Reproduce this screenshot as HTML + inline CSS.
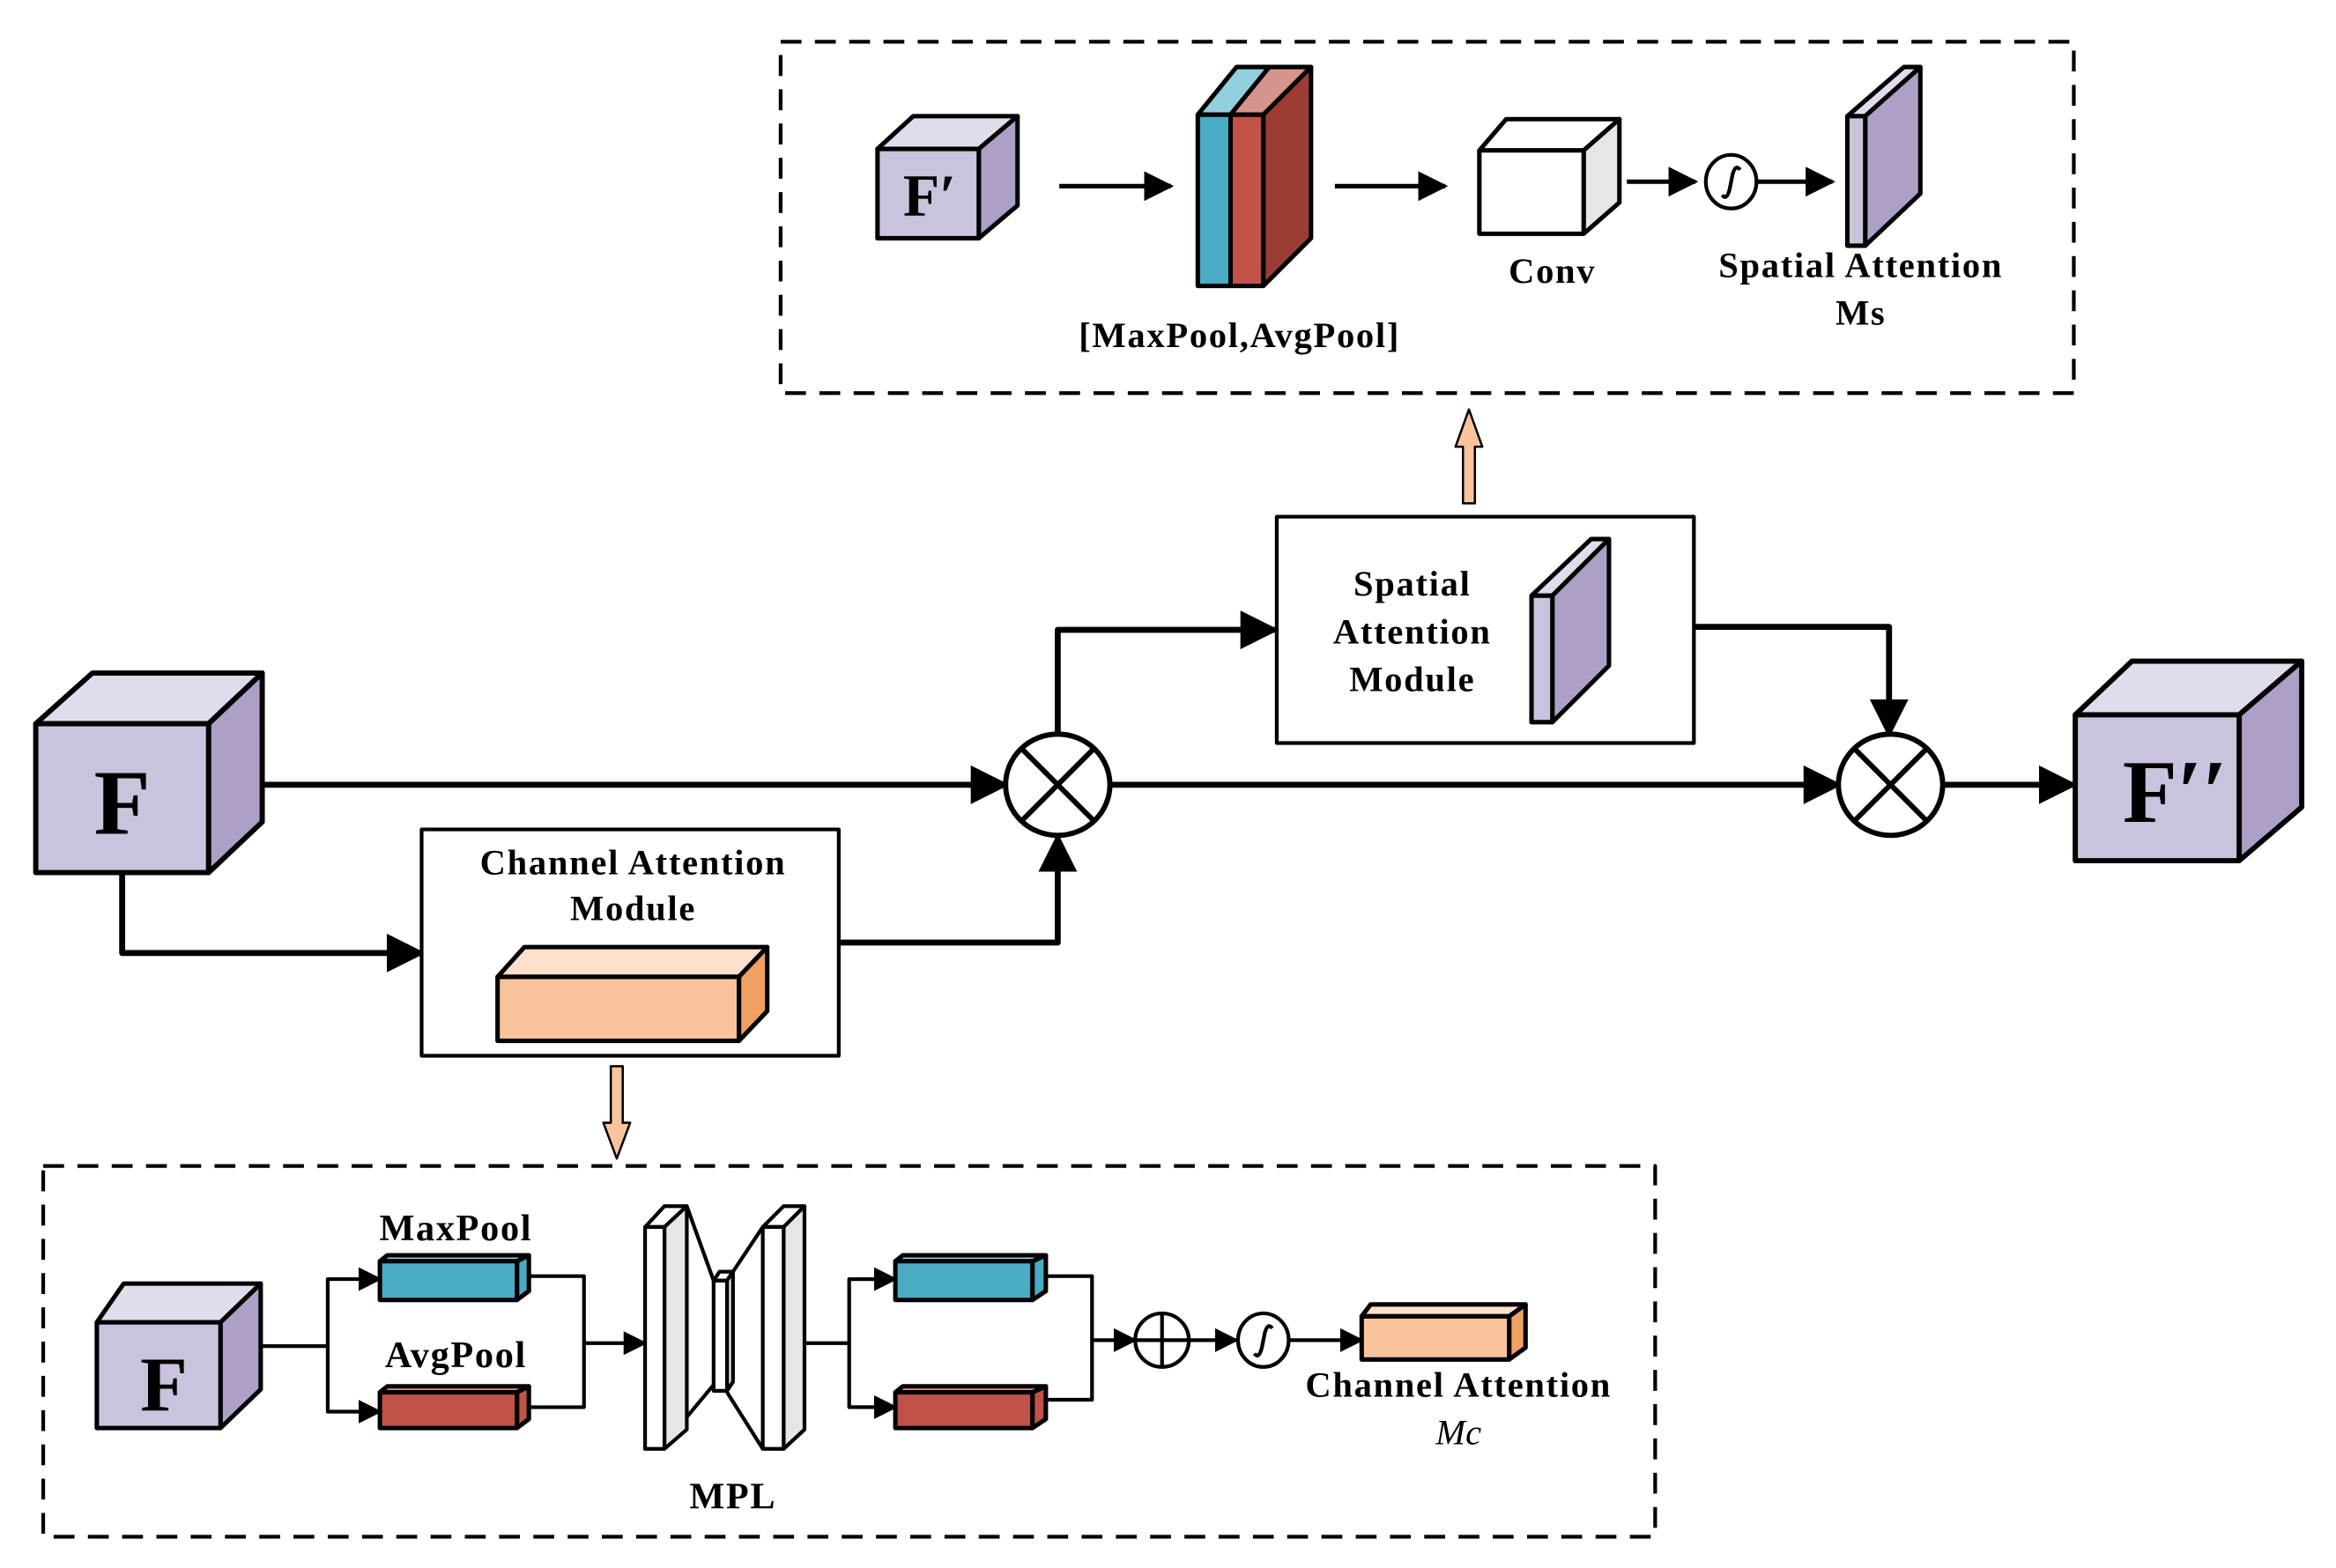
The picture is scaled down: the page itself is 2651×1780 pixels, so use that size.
<!DOCTYPE html>
<html><head><meta charset="utf-8"><style>html,body{margin:0;padding:0;background:#fff}svg{display:block}</style></head>
<body>
<svg width="2651" height="1780" viewBox="0 0 1568 1053" preserveAspectRatio="none" xmlns="http://www.w3.org/2000/svg">
<defs>
<marker id="a" markerWidth="16" markerHeight="16" refX="9" refY="5" orient="auto" markerUnits="userSpaceOnUse" viewBox="0 0 10 10"><path d="M0,0 L10,5 L0,10 z" fill="#000"/></marker>
<marker id="b" viewBox="0 0 10 10" refX="9" refY="5" markerWidth="26" markerHeight="26" orient="auto" markerUnits="userSpaceOnUse"><path d="M0,0 L10,5 L0,10 z" fill="#000"/></marker>
<marker id="s" viewBox="0 0 10 10" refX="9" refY="5" markerWidth="20" markerHeight="20" orient="auto" markerUnits="userSpaceOnUse"><path d="M0,0 L10,5 L0,10 z" fill="#000"/></marker>
</defs>
<g font-family="Liberation Serif, serif" font-weight="bold" stroke-linejoin="round">
<rect x="524" y="28" width="868" height="236" fill="none" stroke="#000" stroke-width="2.5" stroke-dasharray="14,9"/>
<rect x="29" y="783" width="1082" height="249" fill="none" stroke="#000" stroke-width="2.5" stroke-dasharray="14,9"/>

<g stroke="#000" stroke-width="3">
<polygon points="589,100 613,78 683,78 657,100" fill="#e0dcec"/>
<polygon points="657,100 683,78 683,138 657,160" fill="#ae9fc6"/>
<rect x="589" y="100" width="68" height="60" fill="#cbc3dd"/>
</g>
<text x="624" y="145" font-size="40" text-anchor="middle">F′</text>
<line x1="711" y1="125" x2="786" y2="125" stroke="#000" stroke-width="3" marker-end="url(#s)"/>
<g stroke="#000" stroke-width="3">
<polygon points="804,77 830,45 852,45 826,77" fill="#93cfdc"/>
<polygon points="826,77 852,45 880,45 848,77" fill="#d8948c"/>
<polygon points="848,77 880,45 880,160 848,192" fill="#9b3c35"/>
<rect x="804" y="77" width="22" height="115" fill="#4aabc4"/>
<rect x="826" y="77" width="22" height="115" fill="#c05248"/>
</g>
<text x="832" y="233" font-size="24" text-anchor="middle" letter-spacing="1">[MaxPool,AvgPool]</text>
<line x1="896" y1="125" x2="970" y2="125" stroke="#000" stroke-width="3" marker-end="url(#s)"/>
<g stroke="#000" stroke-width="3">
<polygon points="993,101 1011,80 1087,80 1063,101" fill="#fff"/>
<polygon points="1063,101 1087,80 1087,136 1063,157" fill="#e6e6e6"/>
<rect x="993" y="101" width="70" height="56" fill="#fff"/>
</g>
<text x="1042" y="190" font-size="24" text-anchor="middle" letter-spacing="1">Conv</text>
<line x1="1092" y1="122" x2="1138" y2="122" stroke="#000" stroke-width="3" marker-end="url(#s)"/>
<ellipse cx="1162" cy="122" rx="17" ry="18" fill="#fff" stroke="#000" stroke-width="2.5"/>
<path d="M1156,131 q3,4 5,-4 l2,-10 q2,-7 5,-3" fill="none" stroke="#000" stroke-width="2.5"/>
<line x1="1180" y1="122" x2="1230" y2="122" stroke="#000" stroke-width="3" marker-end="url(#s)"/>
<g stroke="#000" stroke-width="3">
<polygon points="1240,78 1278,45 1289,45 1252,78" fill="#e0dcec"/>
<polygon points="1252,78 1289,45 1289,130 1252,165" fill="#ae9fc6"/>
<rect x="1240" y="78" width="12" height="87" fill="#cbc3dd"/>
</g>
<text x="1249" y="186" font-size="24" text-anchor="middle" letter-spacing="1">Spatial Attention</text>
<text x="1249" y="218" font-size="24" text-anchor="middle" letter-spacing="1">Ms</text>

<polygon points="982,338 982,300 977,300 986,275 995,300 990,300 990,338" fill="#f9c49c" stroke="#000" stroke-width="1.5"/>

<rect x="857" y="347" width="280" height="152" fill="#fff" stroke="#000" stroke-width="2.5"/>
<text x="948" y="400" font-size="24" text-anchor="middle" letter-spacing="1">Spatial</text>
<text x="948" y="432" font-size="24" text-anchor="middle" letter-spacing="1">Attention</text>
<text x="948" y="464" font-size="24" text-anchor="middle" letter-spacing="1">Module</text>
<g stroke="#000" stroke-width="3">
<polygon points="1028,400 1068,362 1080,362 1042,400" fill="#e0dcec"/>
<polygon points="1042,400 1080,362 1080,447 1042,485" fill="#ae9fc6"/>
<rect x="1028" y="400" width="14" height="85" fill="#cbc3dd"/>
</g>

<g stroke="#000" stroke-width="3.5">
<polygon points="24,486 62,452 176,452 140,486" fill="#e0dcec"/>
<polygon points="140,486 176,452 176,552 140,586" fill="#ae9fc6"/>
<rect x="24" y="486" width="116" height="100" fill="#cbc3dd"/>
</g>
<text x="82" y="560" font-size="62" text-anchor="middle">F</text>
<g stroke="#000" stroke-width="3.5">
<polygon points="1393,480 1431,444 1545,444 1503,480" fill="#e0dcec"/>
<polygon points="1503,480 1545,444 1545,542 1503,578" fill="#ae9fc6"/>
<rect x="1393" y="480" width="110" height="98" fill="#cbc3dd"/>
</g>
<text x="1460" y="552" font-size="60" text-anchor="middle">F′′</text>

<g stroke="#000" stroke-width="4" fill="none">
<line x1="176" y1="527" x2="675" y2="527" marker-end="url(#b)"/>
<line x1="745" y1="527" x2="1234" y2="527" marker-end="url(#b)"/>
<line x1="1304" y1="527" x2="1392" y2="527" marker-end="url(#b)"/>
<polyline points="710,493 710,423 856,423" marker-end="url(#b)"/>
<polyline points="1137,421 1268,421 1268,493" marker-end="url(#b)"/>
<polyline points="82,586 82,640 283,640" marker-end="url(#b)"/>
<polyline points="563,633 710,633 710,562" marker-end="url(#b)"/>
</g>
<g stroke="#000" stroke-width="3.5" fill="#fff">
<ellipse cx="710" cy="527" rx="35" ry="34"/>
<ellipse cx="1269" cy="527" rx="35" ry="34"/>
</g>
<g stroke="#000" stroke-width="3.5">
<line x1="686" y1="503" x2="734" y2="551"/><line x1="734" y1="503" x2="686" y2="551"/>
<line x1="1245" y1="503" x2="1293" y2="551"/><line x1="1293" y1="503" x2="1245" y2="551"/>
</g>

<rect x="283" y="557" width="280" height="152" fill="#fff" stroke="#000" stroke-width="2.5"/>
<text x="425" y="587" font-size="24" text-anchor="middle" letter-spacing="1">Channel Attention</text>
<text x="425" y="618" font-size="24" text-anchor="middle" letter-spacing="1">Module</text>
<g stroke="#000" stroke-width="3">
<polygon points="334,656 352,636 515,636 496,656" fill="#fde0cc"/>
<polygon points="496,656 515,636 515,679 496,699" fill="#f0a060"/>
<rect x="334" y="656" width="162" height="43" fill="#f9c49c"/>
</g>
<polygon points="410,716 410,754 405,754 414,778 423,754 418,754 418,716" fill="#f9c49c" stroke="#000" stroke-width="1.5"/>

<g stroke="#000" stroke-width="3">
<polygon points="65,888 83,862 175,862 148,888" fill="#e0dcec"/>
<polygon points="148,888 175,862 175,933 148,959" fill="#ae9fc6"/>
<rect x="65" y="888" width="83" height="71" fill="#cbc3dd"/>
</g>
<text x="110" y="947" font-size="52" text-anchor="middle">F</text>
<g stroke="#000" stroke-width="2.5" fill="none">
<polyline points="175,904 220,904"/>
<polyline points="220,945 220,859 255,859" marker-end="url(#a)"/>
<polyline points="220,945 220,948 255,948" marker-end="url(#a)"/>
<polyline points="355,857 392,857 392,945 355,945"/>
<line x1="392" y1="902" x2="433" y2="902" marker-end="url(#a)"/>
<line x1="540" y1="902" x2="570" y2="902"/>
<polyline points="601,859 570,859 570,945 601,945"/>
<line x1="570" y1="859" x2="601" y2="859" marker-end="url(#a)"/>
<line x1="570" y1="945" x2="601" y2="945" marker-end="url(#a)"/>
<polyline points="702,857 733,857 733,940 702,940"/>
<line x1="733" y1="900" x2="762" y2="900" marker-end="url(#a)"/>
<line x1="798" y1="900" x2="830" y2="900" marker-end="url(#a)"/>
<line x1="866" y1="900" x2="914" y2="900" marker-end="url(#a)"/>
</g>
<g stroke="#000" stroke-width="3">
<polygon points="255,847 260,843 355,843 347,847" fill="#93cfdc"/>
<polygon points="347,847 355,843 355,867 347,873" fill="#4aabc4"/>
<rect x="255" y="847" width="92" height="26" fill="#4aabc4"/>
<polygon points="255,935 260,931 355,931 347,935" fill="#d8948c"/>
<polygon points="347,935 355,931 355,953 347,959" fill="#c05248"/>
<rect x="255" y="935" width="92" height="24" fill="#c05248"/>
<polygon points="601,847 606,843 702,843 693,847" fill="#93cfdc"/>
<polygon points="693,847 702,843 702,867 693,873" fill="#4aabc4"/>
<rect x="601" y="847" width="92" height="26" fill="#4aabc4"/>
<polygon points="601,935 606,931 702,931 693,935" fill="#d8948c"/>
<polygon points="693,935 702,931 702,953 693,959" fill="#c05248"/>
<rect x="601" y="935" width="92" height="24" fill="#c05248"/>
<polygon points="914,884 920,876 1024,876 1013,884" fill="#fde0cc"/>
<polygon points="1013,884 1024,876 1024,905 1013,913" fill="#f0a060"/>
<rect x="914" y="884" width="99" height="29" fill="#f9c49c"/>
</g>
<text x="306" y="833" font-size="25" text-anchor="middle" letter-spacing="1">MaxPool</text>
<text x="306" y="918" font-size="25" text-anchor="middle" letter-spacing="1">AvgPool</text>
<g stroke="#000" stroke-width="2.5">
<polyline points="461,810 479,860" fill="none"/>
<polyline points="454,960 479,930" fill="none"/>
<polyline points="512,824 488,860" fill="none"/>
<polyline points="512,973 488,935" fill="none"/>
<polygon points="433,824 446,810 461,810 446,824" fill="#fff"/>
<polygon points="446,824 461,810 461,960 446,973" fill="#e6e6e6"/>
<rect x="433" y="824" width="13" height="149" fill="#fff"/>
<polygon points="479,860 483,854 492,854 488,860" fill="#fff"/>
<polygon points="488,860 492,854 492,928 488,934" fill="#e6e6e6"/>
<rect x="479" y="860" width="9" height="74" fill="#fff"/>
<polygon points="512,824 526,810 540,810 526,824" fill="#fff"/>
<polygon points="526,824 540,810 540,960 526,973" fill="#e6e6e6"/>
<rect x="512" y="824" width="14" height="149" fill="#fff"/>
</g>
<text x="492" y="1013" font-size="25" text-anchor="middle" letter-spacing="1">MPL</text>
<ellipse cx="780" cy="900" rx="18" ry="18" fill="#fff" stroke="#000" stroke-width="2.5"/>
<line x1="762" y1="900" x2="798" y2="900" stroke="#000" stroke-width="2.5"/>
<line x1="780" y1="882" x2="780" y2="918" stroke="#000" stroke-width="2.5"/>
<ellipse cx="848" cy="900" rx="17" ry="18" fill="#fff" stroke="#000" stroke-width="2.5"/>
<path d="M842,909 q3,4 5,-4 l2,-10 q2,-7 5,-3" fill="none" stroke="#000" stroke-width="2.5"/>
<text x="979" y="938" font-size="24" text-anchor="middle" letter-spacing="1">Channel Attention</text>
<text x="979" y="970" font-size="24" text-anchor="middle" font-style="italic" font-weight="normal">Mc</text>
</g>
</svg>
</body></html>
